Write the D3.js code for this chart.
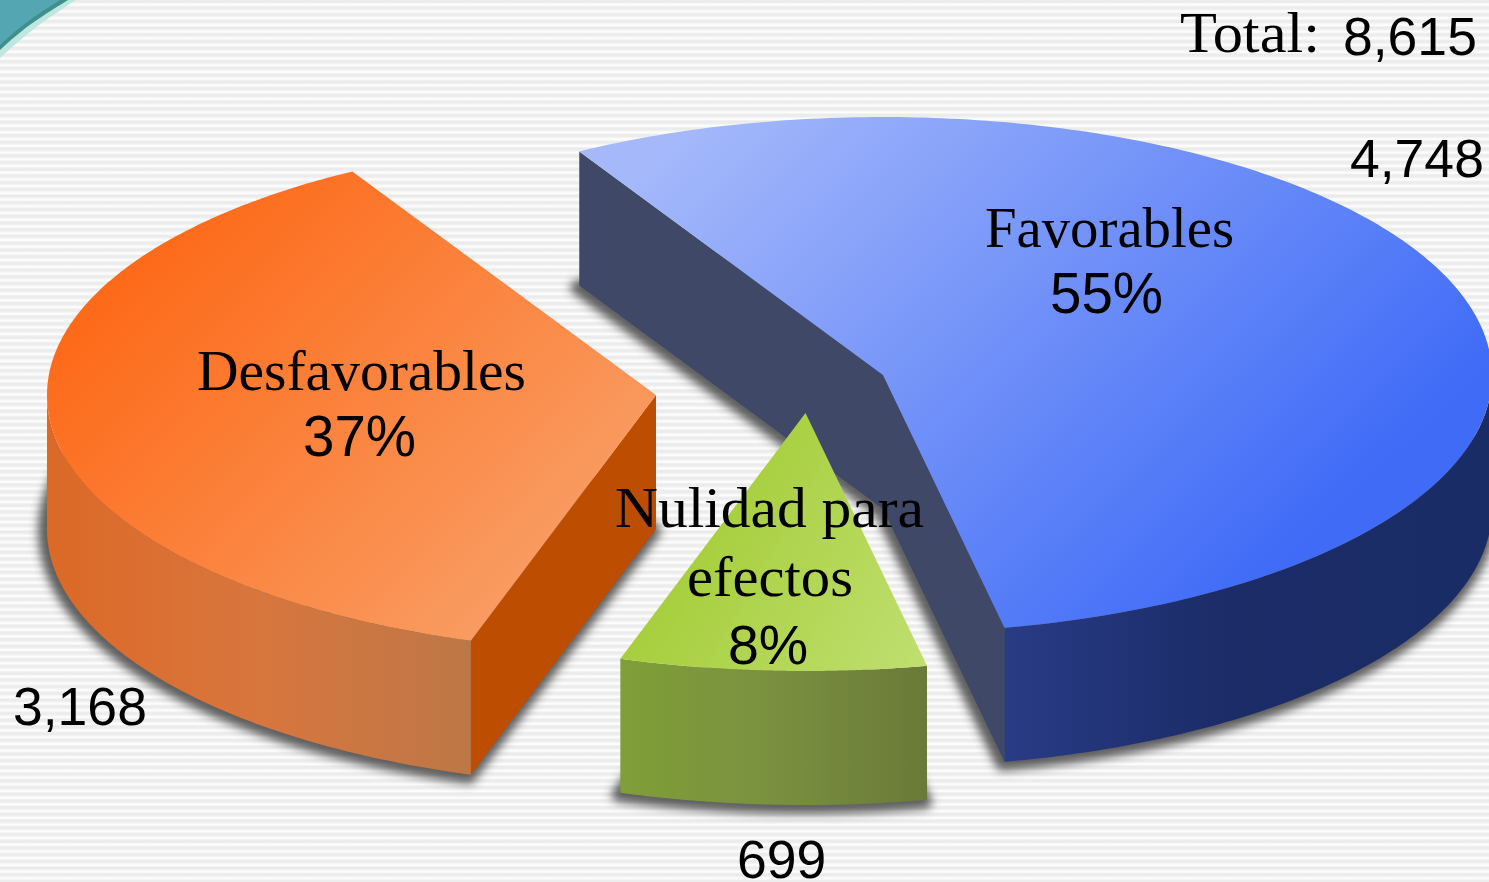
<!DOCTYPE html>
<html><head><meta charset="utf-8">
<style>html,body{margin:0;padding:0;background:#fff;overflow:hidden}svg{display:block}</style>
<script src="https://cdnjs.cloudflare.com/ajax/libs/d3/7.8.5/d3.min.js"></script>
</head><body><svg id="c" width="1489" height="882"></svg>
<script>
const categories = ["Desfavorables", "Favorables", "Nulidad para efectos"];
const values = [3168, 4748, 699];
const totalLabel = "Total:";
const total = 8615;

const W = 1489, H = 882;
const RY = 258, DEPTH = 134;
const radii = [609, 609, 609];
const START = -162.3 * Math.PI / 180;
const apex = [[656, 395], [883, 375], [805.5, 413]];
const topGrad = [["#fd6a19", "#f99c62", [110, 290], [480, 640]],
                 ["#a4b8fa", "#3f6bf7", [700, 120], [1200, 640]],
                 ["#a2cb33", "#c0df70", [640, 520], [920, 680]]];
const wallGrad = [[["#dc6926", 0], ["#d8763e", .5], ["#bd7746", 1]],
                  [["#293b85", 0], ["#1b2c68", .45], ["#1a2c66", 1]],
                  [["#7f9f37", 0], ["#7a9040", .5], ["#697a37", 1]]];
const cutColor = ["#bd4d00", "#3f4866"];
const drawOrder = [1, 0, 2];

const svg = d3.select("#c");
const defs = svg.append("defs");

// background stripes
const pat = defs.append("pattern").attr("id", "stripes").attr("patternUnits", "userSpaceOnUse")
  .attr("width", 10).attr("height", 6.72);
const sg = defs.append("linearGradient").attr("id", "sg").attr("x1", 0).attr("x2", 0).attr("y1", 0).attr("y2", 1);
[[0, "#ebebeb"], [.35, "#ededed"], [.6, "#fbfbfb"], [.8, "#fdfdfd"], [1, "#ebebeb"]]
  .forEach(([o, c]) => sg.append("stop").attr("offset", o).attr("stop-color", c));
pat.append("rect").attr("width", 10).attr("height", 6.72).attr("fill", "url(#sg)");
svg.append("rect").attr("width", W).attr("height", H).attr("fill", "url(#stripes)");

// teal corner
const corner = (a, b) => d3.line().curve(d3.curveBasis)([[0, a], [a * .55, a * .5], [b, 0]]) + `L0,0Z`;
svg.append("path").attr("d", corner(58, 76)).attr("fill", "#bfe6df");
svg.append("path").attr("d", corner(50, 68)).attr("fill", "#3f8f8c");
svg.append("path").attr("d", corner(45, 60)).attr("fill", "#55a6b3");

defs.append("filter").attr("id", "blur").attr("x", "-10%").attr("y", "-10%").attr("width", "120%").attr("height", "120%")
  .append("feGaussianBlur").attr("stdDeviation", 5);

const slices = d3.pie().sort(null).startAngle(START).endAngle(START + 2 * Math.PI)(values);
const pt = (i, a, dy = 0) => [apex[i][0] + radii[i] * Math.sin(a), apex[i][1] - RY * Math.cos(a) + dy];

topGrad.forEach((g, i) => {
  const lg = defs.append("linearGradient").attr("id", "top" + i).attr("gradientUnits", "userSpaceOnUse")
    .attr("x1", g[2][0]).attr("y1", g[2][1]).attr("x2", g[3][0]).attr("y2", g[3][1]);
  lg.append("stop").attr("offset", 0).attr("stop-color", g[0]);
  lg.append("stop").attr("offset", 1).attr("stop-color", g[1]);
});

const wallArea = d3.area().x(d => d[0]).y0(d => d[1]).y1(d => d[1] + DEPTH);
const poly = d3.line().x(d => d[0]).y(d => d[1]);

drawOrder.forEach(i => {
  const s = slices[i];
  const g = svg.append("g");
  const rim = d3.range(241).map(k => pt(i, s.startAngle + (s.endAngle - s.startAngle) * k / 240));
  const face = poly([apex[i], ...rim]) + "Z";

  // soft shadow under the bottom face
  g.append("path").attr("d", face).attr("transform", `translate(-2,${DEPTH + 2})`)
    .attr("fill", "#444").attr("stroke", "#444").attr("stroke-width", 14)
    .attr("stroke-linejoin", "round").attr("opacity", .85).attr("filter", "url(#blur)");

  // straight cut wall
  if (i < 2) {
    const cut = i === 0
      ? [apex[i], pt(i, s.startAngle)]
      : [pt(i, s.startAngle), apex[i], pt(i, s.endAngle)];
    g.append("path").attr("d", wallArea(cut)).attr("fill", cutColor[i]);
  }

  // curved outer wall (only the part facing the viewer)
  let from = Math.max(s.startAngle, Math.PI / 2), to = Math.min(s.endAngle, 3 * Math.PI / 2);
  if (i === 0) { from = s.startAngle + 2 * Math.PI; to = 3 * Math.PI / 2; }
  const pts = d3.range(121).map(k => pt(i, from + (to - from) * k / 120));
  const xs = d3.extent(pts, d => d[0]);
  const wg = defs.append("linearGradient").attr("id", "wall" + i).attr("gradientUnits", "userSpaceOnUse")
    .attr("x1", xs[0]).attr("x2", xs[1]).attr("y1", 0).attr("y2", 0);
  wallGrad[i].forEach(([c, o]) => wg.append("stop").attr("offset", o).attr("stop-color", c));
  g.append("path").attr("d", wallArea(pts)).attr("fill", `url(#wall${i})`);

  // top face
  g.append("path").attr("d", face).attr("fill", `url(#top${i})`);
});

// text
const serif = "'Liberation Serif', serif", sans = "'Liberation Sans', Arial, sans-serif";
const text = (t, x, y, size, fam, len) => {
  const el = svg.append("text").attr("x", x).attr("y", y).attr("font-size", size)
    .attr("font-family", fam).attr("fill", "#000").text(t);
  if (len) el.attr("textLength", len).attr("lengthAdjust", "spacingAndGlyphs");
  return el;
};
const pct = v => d3.format(".0%")(v / total);
const fmt = d3.format(",");

text(totalLabel, 1180, 52, 58, serif, 140);
text(fmt(total), 1343, 55, 53.5, sans);
text(fmt(values[1]), 1350, 177, 53.5, sans);
text(fmt(values[0]), 13, 725, 53.5, sans);
text(fmt(values[2]), 737, 878, 53.5, sans);

text(categories[1], 985, 247, 58, serif, 249);
text(pct(values[1]), 1050, 313, 56.5, sans);
text(categories[0], 197, 390, 58, serif, 329);
text(pct(values[0]), 303, 456, 56.5, sans);
const nul = categories[2].split(" ");
text(nul.slice(0, 2).join(" "), 615, 527, 58, serif, 309);
text(nul[2], 687, 596, 58, serif, 166);
text(pct(values[2]), 728, 664, 55.5, sans);
</script></body></html>
